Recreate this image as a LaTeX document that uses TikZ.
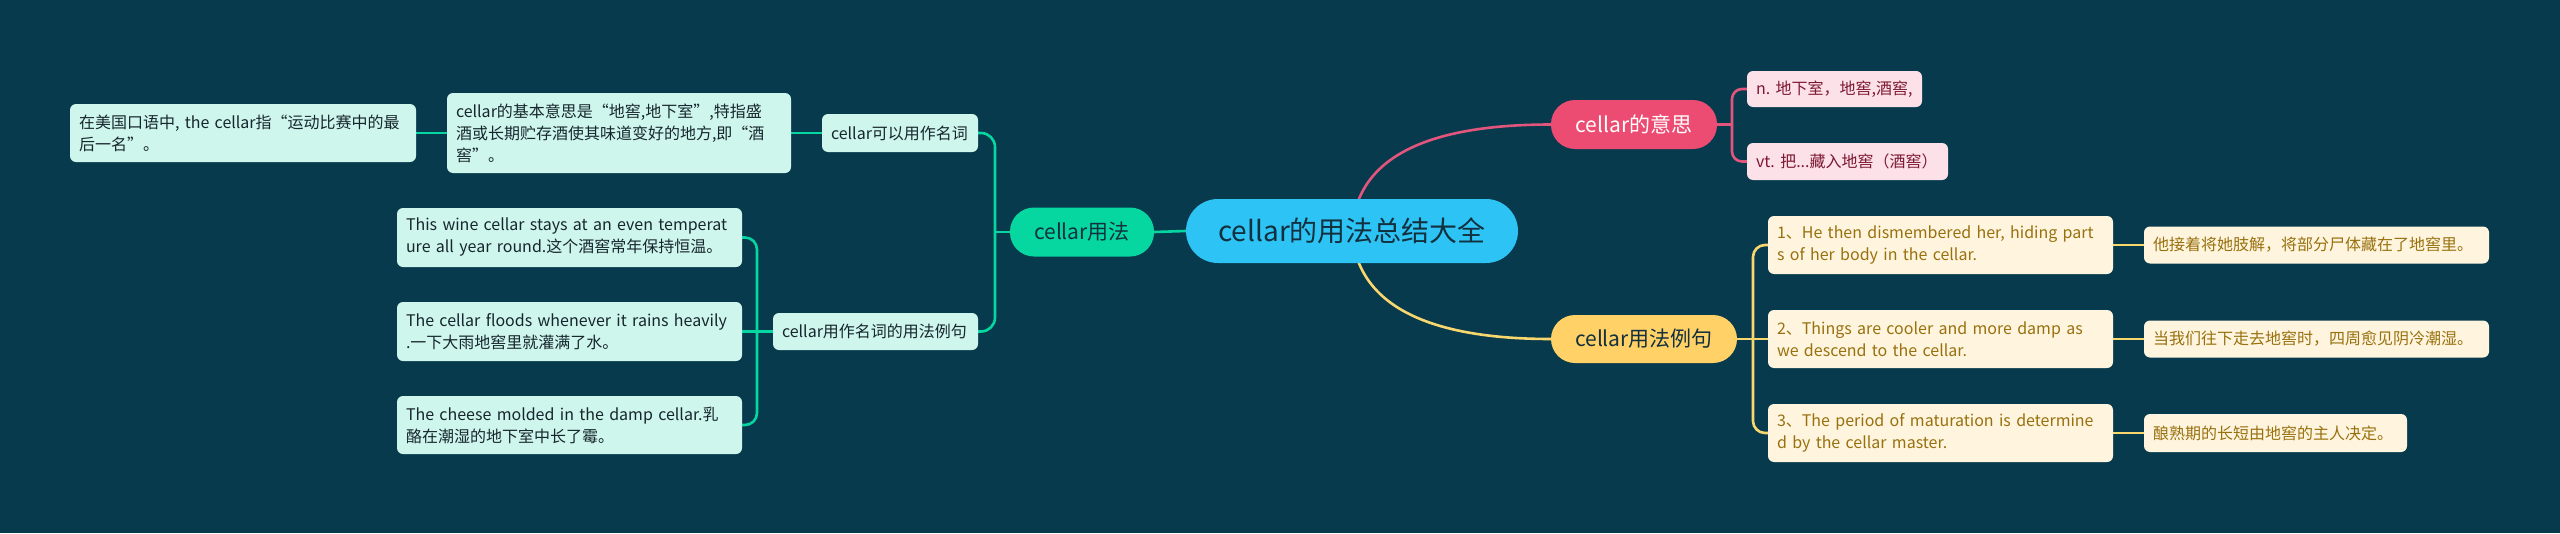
\documentclass[tikz,border=0pt]{standalone}
\usepackage{fontspec}
\setmainfont{Noto Sans CJK SC}
\pgfdeclarelayer{bgl}
\pgfdeclarelayer{edges}
\pgfsetlayers{bgl,edges,main}
\definecolor{bgc}{HTML}{073A4D}
\definecolor{centc}{HTML}{2DC4F5}
\definecolor{darktxt}{HTML}{12303E}
\definecolor{greenc}{HTML}{06D6A0}
\definecolor{pinkc}{HTML}{EC4B72}
\definecolor{pinkline}{HTML}{E2557D}
\definecolor{yellowc}{HTML}{FFD166}
\definecolor{yellowline}{HTML}{F8D86E}
\definecolor{gleafc}{HTML}{CFF6EC}
\definecolor{gtextc}{HTML}{16262E}
\definecolor{pleafc}{HTML}{FDE1E8}
\definecolor{ptextc}{HTML}{7C1832}
\definecolor{yleafc}{HTML}{FFF5DE}
\definecolor{ytextc}{HTML}{98700E}
\begin{document}
\frenchspacing
\begin{tikzpicture}[x=1pt,y=-1pt,
  leafbox/.style={rounded corners=6pt, inner xsep=9pt, inner ysep=0pt, align=left,
    font=\fontsize{16}{22}\selectfont\frenchspacing},
  gleaf/.style={leafbox, fill=gleafc, text=gtextc},
  pleaf/.style={leafbox, fill=pleafc, text=ptextc},
  yleaf/.style={leafbox, fill=yleafc, text=ytextc},
  topicbox/.style={rounded corners=24pt, inner sep=0pt, align=center,
    font=\fontsize{21}{25}\selectfont},
  gline/.style={draw=greenc, line width=2.6pt},
  pline/.style={draw=pinkline, line width=2.6pt},
  yline/.style={draw=yellowline, line width=2.6pt}
]
\begin{pgfonlayer}{bgl}
\fill[bgc] (0,0) rectangle (2560,533);
\end{pgfonlayer}
\useasboundingbox (0,0) rectangle (2560,533);

% central
\node[rounded corners=32pt, fill=centc, text=darktxt, inner sep=0pt,
  minimum width=332pt, minimum height=64pt, font=\fontsize{28}{32}\selectfont]
  (central) at (1352,231) {cellar的用法总结大全};

% main topics
\node[topicbox, fill=greenc, text=darktxt, minimum width=144pt, minimum height=49pt]
  (g1) at (1082,232) {cellar用法};
\node[topicbox, fill=pinkc, text=white, minimum width=166pt, minimum height=49pt]
  (m1) at (1634,124.5) {cellar的意思};
\node[topicbox, fill=yellowc, text=darktxt, minimum width=186pt, minimum height=48pt]
  (m2) at (1644,339) {cellar用法例句};

% green branch
\node[gleaf, minimum width=346pt, minimum height=58pt, text width=328pt] (L1) at (243,133)
  {\mbox{在美国口语中, the cellar指“运动比赛中的最}\\\mbox{后一名”。}};
\node[gleaf, minimum width=344pt, minimum height=80pt, text width=326pt] (L2) at (619,133)
  {\mbox{cellar的基本意思是“地窖,地下室”,特指盛}\\\mbox{酒或长期贮存酒使其味道变好的地方,即“酒}\\\mbox{窖”。}};
\node[gleaf, minimum width=156pt, minimum height=38pt, text width=138pt] (L3) at (900,133)
  {\mbox{cellar可以用作名词}};
\node[gleaf, minimum width=205pt, minimum height=37pt, text width=187pt] (L4) at (875.5,331.5)
  {\mbox{cellar用作名词的用法例句}};
\node[gleaf, minimum width=345pt, minimum height=59pt, text width=327pt] (S1) at (569.5,237.5)
  {\mbox{This wine cellar stays at an even temperat}\\\mbox{ure all year round.这个酒窖常年保持恒温。}};
\node[gleaf, minimum width=345pt, minimum height=59pt, text width=327pt] (S2) at (569.5,331.5)
  {\mbox{The cellar floods whenever it rains heavily}\\\mbox{.一下大雨地窖里就灌满了水。}};
\node[gleaf, minimum width=345pt, minimum height=58pt, text width=327pt] (S3) at (569.5,425)
  {\mbox{The cheese molded in the damp cellar.乳}\\\mbox{酪在潮湿的地下室中长了霉。}};

% pink branch
\node[pleaf, minimum width=175pt, minimum height=36pt, text width=157pt] (P1) at (1834.5,89)
  {\mbox{n. 地下室，地窖,酒窖,}};
\node[pleaf, minimum width=201pt, minimum height=37pt, text width=183pt] (P2) at (1847.5,161.5)
  {\mbox{vt. 把...藏入地窖（酒窖）}};

% yellow branch
\node[yleaf, minimum width=345pt, minimum height=58pt, text width=327pt] (Y1) at (1940.5,245)
  {\mbox{1、He then dismembered her, hiding part}\\\mbox{s of her body in the cellar.}};
\node[yleaf, minimum width=345pt, minimum height=58pt, text width=327pt] (Y2) at (1940.5,339)
  {\mbox{2、Things are cooler and more damp as}\\\mbox{we descend to the cellar.}};
\node[yleaf, minimum width=345pt, minimum height=58pt, text width=327pt] (Y3) at (1940.5,433)
  {\mbox{3、The period of maturation is determine}\\\mbox{d by the cellar master.}};
\node[yleaf, minimum width=345pt, minimum height=37pt, text width=327pt] (T1) at (2316.5,245)
  {\mbox{他接着将她肢解，将部分尸体藏在了地窖里。}};
\node[yleaf, minimum width=345pt, minimum height=37pt, text width=327pt] (T2) at (2316.5,339)
  {\mbox{当我们往下走去地窖时，四周愈见阴冷潮湿。}};
\node[yleaf, minimum width=263pt, minimum height=38pt, text width=245pt] (T3) at (2275.5,433)
  {\mbox{酿熟期的长短由地窖的主人决定。}};

% bracket joints
\coordinate (gb1) at (995,232);
\coordinate (gb2) at (757,331.5);
\coordinate (pb) at (1732,124.5);
\coordinate (yb) at (1753,339);

\begin{pgfonlayer}{edges}
\draw[gline] (central.west) -- (g1.east);
\draw[pline] (central.center) .. controls (1356,160) and (1422,124.5) .. (m1.west);
\draw[yline] (central.center) .. controls (1356,302) and (1422,339) .. (m2.west);

\draw[gline] (g1.west) -- (gb1);
\draw[gline, rounded corners=14pt] (L3.east) -| (gb1) |- (L4.east);
\draw[gline] (L3.west) -- (L2.east);
\draw[gline] (L2.west) -- (L1.east);
\draw[gline] (L4.west) -- (S2.east);
\draw[gline, rounded corners=12pt] (S1.east) -| (gb2) |- (S3.east);

\draw[pline] (m1.east) -- (pb);
\draw[pline, rounded corners=10pt] (P1.west) -| (pb) |- (P2.west);

\draw[yline] (m2.east) -- (Y2.west);
\draw[yline, rounded corners=12pt] (Y1.west) -| (yb) |- (Y3.west);
\draw[yline] (Y1.east) -- (T1.west);
\draw[yline] (Y2.east) -- (T2.west);
\draw[yline] (Y3.east) -- (T3.west);
\end{pgfonlayer}
\end{tikzpicture}
\end{document}
